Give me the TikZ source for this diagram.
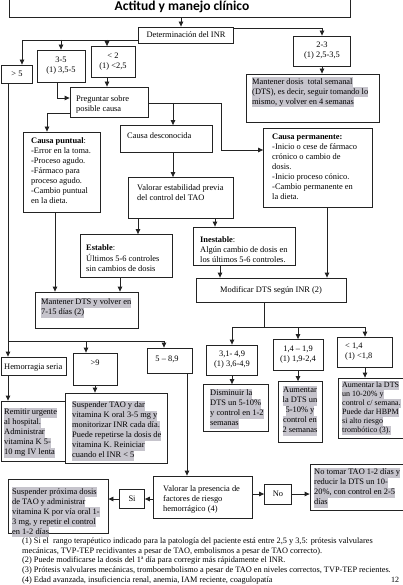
\documentclass[tikz,border=0pt]{standalone}
\usepackage{fontspec}
\setmainfont{Liberation Serif}
\newfontfamily\titlefont{Carlito}
\usetikzlibrary{arrows.meta}
\definecolor{hlc}{RGB}{198,196,204}
\definecolor{ln}{RGB}{35,35,35}
\newcommand\hlt[1]{{\setlength{\fboxsep}{0pt}\colorbox{hlc}{\strut#1}}}
\tikzset{
  box/.style={draw=ln, line width=0.8pt, fill=white, inner sep=0pt},
  txt/.style={inner sep=0pt, font=\fontsize{8.4}{10}\selectfont, align=left},
  ctxt/.style={font=\fontsize{8.4}{10}\selectfont, align=center},
  arr/.style={draw=ln, line width=0.8pt, -{Triangle[length=5pt,width=4.5pt]}},
  conn/.style={draw=ln, line width=0.8pt},
}
\begin{document}
\begin{tikzpicture}[x=1pt,y=-1pt]
\useasboundingbox (0,0) rectangle (403,585);
\clip (0,0) rectangle (403,585);
\fill[white] (0,0) rectangle (403,585);

% ---------- title ----------
\node[box, minimum width=341, minimum height=40, anchor=south west] (tbox) at (9,18) {};
\node[inner sep=0pt, anchor=base, font=\titlefont\bfseries\fontsize{13.5}{15}\selectfont] (title) at (182,11) {Actitud y manejo clínico};

% ---------- upper boxes ----------
\node[box, ctxt, minimum width=95, minimum height=16] (det) at (186,35) {Determinación del INR};
\node[box, ctxt, minimum width=31, minimum height=18] (gt5) at (17,74) {> 5};
\node[box, ctxt, minimum width=48, minimum height=32] (n35) at (61,66) {3-5\\(1) 3,5-5};
\node[box, ctxt, minimum width=44, minimum height=31] (lt2) at (113,62) {< 2\\(1) <2,5};
\node[box, ctxt, minimum width=57, minimum height=30] (n23) at (322,51) {2-3\\(1) 2,5-3,5};

\node[box, minimum width=133, minimum height=48] (mant4) at (313,98) {};
\node[txt, anchor=north west] (mant4t) at (252,77) {\hlt{Mantener dosis\ \ total semanal}\\\hlt{(DTS), es decir, seguir tomando lo}\\\hlt{mismo, y volver en 4 semanas}};

\node[box, minimum width=78, minimum height=30] (preg) at (109,102) {};
\node[txt, anchor=north west] (pregt) at (76,94) {\strut Preguntar sobre\\posible causa};

\node[box, minimum width=77, minimum height=80] (cpunt) at (62,172) {};
\node[txt, anchor=north west] (cpuntt) at (31,136.5) {\strut\textbf{Causa puntual}:\\-Error en la toma.\\-Proceso agudo.\\-Fármaco para\\proceso agudo.\\-Cambio puntual\\en la dieta.};

\node[box, minimum width=92, minimum height=27] (cdesc) at (166,139) {};
\node[txt, anchor=north west] (cdesct) at (127,131.5) {\strut Causa desconocida};

\node[box, minimum width=109, minimum height=79] (cperm) at (318,168) {};
\node[txt, anchor=north west] (cpermt) at (272,132.5) {\strut\textbf{Causa permanente:}\\-Inicio o cese de fármaco\\crónico o cambio de\\dosis.\\-Inicio proceso cónico.\\-Cambio permanente en\\la dieta.};

\node[box, minimum width=105, minimum height=41] (valest) at (181,198) {};
\node[txt, anchor=north west] (valestt) at (137,183.5) {\strut Valorar estabilidad previa\\del control del TAO};

\node[box, minimum width=92, minimum height=43] (estab) at (126,256) {};
\node[txt, anchor=north west] (estabt) at (86,243.5) {\strut\textbf{Estable}:\\Últimos 5-6 controles\\sin cambios de dosis};

\node[box, minimum width=102, minimum height=38] (inest) at (244,246) {};
\node[txt, anchor=north west] (inestt) at (200,235.5) {\strut\textbf{Inestable}:\\Algún cambio de dosis en\\los últimos 5-6 controles.};

\node[box, minimum width=103, minimum height=36] (mant7) at (87,310) {};
\node[txt, anchor=north west] (mant7t) at (41,297.5) {\hlt{Mantener DTS y volver en}\\\hlt{7-15 días (2)}};

\node[box, ctxt, minimum width=150, minimum height=24] (modif) at (271,290) {Modificar DTS según INR (2)};

% ---------- INR sub-ranges ----------
\node[box, ctxt, minimum width=51, minimum height=30] (r31) at (232,360) {3,1- 4,9\\(1) 3,6-4,9};
\node[box, ctxt, minimum width=50, minimum height=31] (r14) at (298,355) {1,4 – 1,9\\(1) 1,9-2,4};
\node[box, minimum width=55, minimum height=30] (rlt14) at (365,352) {};
\node[txt, anchor=north west] (rlt14t) at (345,341.5) {\strut< 1,4\\(1) <1,8};

\node[box, minimum width=65, minimum height=47] (dism) at (236,408) {};
\node[txt, anchor=north west] (dismt) at (210,388.5) {\hlt{Disminuir la}\\\hlt{DTS un 5-10\%}\\\hlt{y control en 1-2}\\\hlt{semanas}};

\node[box, minimum width=44, minimum height=61] (aum1) at (300,412) {};
\node[txt, align=center, anchor=north] (aum1t) at (300,385.5) {\hlt{Aumentar}\\\hlt{la DTS un}\\\hlt{5-10\% y}\\\hlt{control en}\\\hlt{2 semanas}};

\node[box, minimum width=80, minimum height=60] (aum2) at (378,408) {};
\node[txt, anchor=north west, font=\fontsize{8}{9}\selectfont] (aum2t) at (342,381) {\hlt{Aumentar la DTS}\\\hlt{un 10-20\% y}\\\hlt{control c/ semana.}\\\hlt{Puede dar HBPM}\\\hlt{si alto riesgo}\\\hlt{trombótico (3).}};

% ---------- lower left ----------
\node[box, minimum width=65, minimum height=18] (hem) at (33.5,366) {};
\node[txt, anchor=base west] (hemt) at (4,369.5) {Hemorragia seria};

\node[box, minimum width=44, minimum height=32] (gt9) at (95,369) {};
\node[txt, anchor=base] (gt9t) at (95,365) {>9};

\node[box, minimum width=45, minimum height=25] (r589) at (170,360.5) {};
\node[txt, anchor=base] (r589t) at (167,361) {5 – 8,9};

\node[box, minimum width=66, minimum height=60] (remit) at (34,431) {};
\node[txt, anchor=north west] (remitt) at (4,407.5) {\hlt{Remitir urgente}\\\hlt{al hospital.}\\\hlt{Administrar}\\\hlt{vitamina K 5-}\\\hlt{10 mg IV lenta}};

\node[box, minimum width=102, minimum height=70] (susp) at (116,428) {};
\node[txt, anchor=north west] (suspt) at (72,400.5) {\hlt{Suspender TAO y dar}\\\hlt{vitamina K oral 3-5 mg y}\\\hlt{monitorizar INR cada día.}\\\hlt{Puede repetirse la dosis de}\\\hlt{vitamina K. Reiniciar}\\\hlt{cuando el INR < 5}};

\node[box, minimum width=99, minimum height=42] (valpres) at (203,497) {};
\node[txt, anchor=north west] (valprest) at (163,484.5) {\strut Valorar la presencia de\\factores de riesgo\\hemorrágico (4)};

\node[box, ctxt, minimum width=25, minimum height=19] (si) at (132,499) {Si};

\node[box, minimum width=100, minimum height=54] (suspprox) at (58,506) {};
\node[txt, anchor=north west] (suspproxt) at (12,487) {\hlt{Suspender próxima dosis}\\\hlt{de TAO y administrar}\\\hlt{vitamina K por vía oral 1-}\\\hlt{3 mg, y repetir el control}\\\hlt{en 1-2 días}};

\node[box, ctxt, minimum width=27, minimum height=20] (no) at (278,494) {No};

\node[box, minimum width=102, minimum height=46] (notomar) at (361,487) {};
\node[txt, anchor=north west] (notomart) at (314,467.5) {\hlt{No tomar TAO 1-2 días y}\\\hlt{reducir la DTS un 10-}\\\hlt{20\%, con control en 2-5}\\\hlt{días}};

% ---------- footnotes ----------
\node[txt, anchor=north west, font=\fontsize{8.3}{9.8}\selectfont] (notes) at (22,536.2) {\strut(1) Si el\ \ rango terapéutico indicado para la patología del paciente está entre 2,5 y 3,5: prótesis valvulares\\mecánicas, TVP-TEP recidivantes a pesar de TAO, embolismos a pesar de TAO correcto).\\(2) Puede modificarse la dosis del 1ª día para corregir más rápidamente el INR.\\(3) Prótesis valvulares mecánicas, tromboembolismo a pesar de TAO en niveles correctos, TVP-TEP recientes.\\(4) Edad avanzada, insuficiencia renal, anemia, IAM reciente, coagulopatía};
\node[txt, anchor=base, font=\fontsize{8}{9.8}\selectfont] (pgnum) at (395,582.5) {12};

% ---------- connectors ----------
\coordinate (detin) at ([xshift=-5pt]det.north);
\draw[arr] (detin |- tbox.south) -- (detin);

\coordinate (dl) at ([yshift=-5pt]det.west);
\draw[arr] (dl) -| ([xshift=5pt]gt5.north);
\draw[arr] (dl -| n35.north) -- (n35.north);
\coordinate (lt2in) at ([xshift=-6pt]lt2.north);
\draw[arr] (dl -| lt2in) -- (lt2in);

\coordinate (dr) at ([yshift=7pt]det.east);
\draw[arr] (dr) -| (n23.north);
\draw[arr] (n23.south) -- (n23.south |- mant4.north);

\draw[arr] (lt2in |- lt2.south) -- (lt2in |- preg.north);
\coordinate (n35o) at ([xshift=-4pt]n35.south);
\draw[arr] (n35o) |- ([yshift=4pt]preg.west);

\coordinate (pregl) at ([yshift=-11pt]preg.west);
\coordinate (cpin) at ([xshift=-15pt]cpunt.north);
\draw[arr] (pregl) -| (cpin);

\coordinate (pregr) at ([yshift=-1pt]preg.east);
\coordinate (cdin) at ([xshift=7pt]cdesc.north);
\draw[arr] (pregr -| cdin) -- (cdin);
\coordinate (cpermin) at ([yshift=18pt]cperm.west);
\coordinate (pj) at (221,0);
\draw[arr] (pregr) -| (pj |- cpermin) -- (cpermin);

\draw[arr] (cdin |- cdesc.south) -- (cdin |- valest.north);
\coordinate (esin) at ([xshift=12pt]estab.north);
\draw[arr] (esin |- valest.south) -- (esin);
\coordinate (inin) at ([xshift=-29pt]inest.north);
\draw[arr] (inin |- valest.south) -- (inin);

\coordinate (cpo) at ([xshift=-7pt]cpunt.south);
\draw[arr] (cpo) -- (cpo |- mant7.north);
\coordinate (eso) at ([xshift=-6pt]estab.south);
\draw[arr] (eso) -- (eso |- mant7.north);
\coordinate (ino) at ([xshift=-24pt]inest.south);
\draw[arr] (ino) -- (ino |- modif.north);
\coordinate (cpro) at ([xshift=9pt]cperm.south);
\draw[arr] (cpro) -- (cpro |- modif.north);

\coordinate (mo) at ([xshift=-7pt]modif.south);
\coordinate (bus) at (0,327);
\draw[conn] (mo) -- (mo |- bus);
\draw[arr] (mo |- bus) -| (r31.north);
\draw[arr] (mo |- bus) -| (r14.north);
\draw[arr] (mo |- bus) -| (rlt14.north);
\draw[arr] (r31.south) -- (r31.south |- dism.north);
\draw[arr] (r14.south) -- (r14.south |- aum1.north);
\draw[arr] (rlt14.south) -- (rlt14.south |- aum2.north);

\coordinate (lr) at ([xshift=-9pt]gt5.south);
\draw[arr] (lr) -- (lr |- hem.north);
\coordinate (bus2) at (0,341);
\draw[arr] (lr |- bus2) -| ([xshift=-9pt]gt9.north);
\draw[arr] (lr |- bus2) -| ([xshift=-6pt]r589.north);
\draw[arr] (lr |- hem.south) -- (lr |- remit.north);
\draw[arr] (gt9.south) -- (gt9.south |- susp.north);
\coordinate (r5o) at ([xshift=17pt]r589.south);
\draw[arr] (r5o) -- (r5o |- valpres.north);

\draw[arr] (si.east -| valpres.west) -- (si.east);
\draw[arr] (si.west) -- (si.west -| suspprox.east);
\draw[arr] (no.west -| valpres.east) -- (no.west);
\draw[arr] (no.east) -- (no.east -| notomar.west);
\end{tikzpicture}
\end{document}
